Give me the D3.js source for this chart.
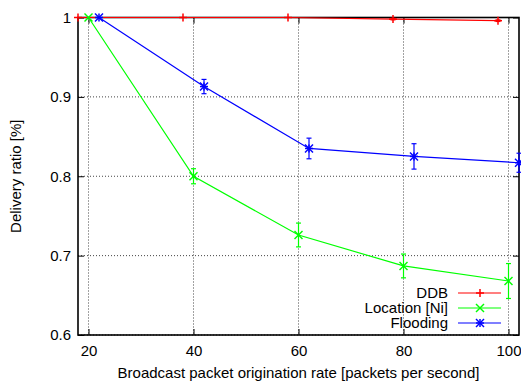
<!DOCTYPE html>
<html>
<head>
<meta charset="utf-8">
<script src="https://cdn.jsdelivr.net/npm/d3@7"></script>
<style>
  html, body { margin: 0; padding: 0; background: #fff; }
  svg { display: block; font-family: "Liberation Sans", Arial, sans-serif; }
</style>
</head>
<body>
<svg id="chart" width="521" height="383"></svg>
<script>
// Delivery ratio vs. broadcast origination rate, three protocols
const xTicks = [20, 40, 60, 80, 100];
const yTicks = [0.6, 0.7, 0.8, 0.9, 1];

const ddbX = [18, 38, 58, 78, 98];
const ddbY = [1.0, 1.0, 1.0, 0.998, 0.996];
const ddbErr = [0, 0, 0, 0.001, 0.001];

const locX = [20, 40, 60, 80, 100];
const locY = [1.0, 0.800, 0.726, 0.687, 0.668];
const locErr = [0, 0.0095, 0.015, 0.015, 0.022];

const floodX = [22, 42, 62, 82, 102];
const floodY = [1.0, 0.913, 0.835, 0.825, 0.817];
const floodErr = [0, 0.009, 0.013, 0.016, 0.012];

const seriesNames = ["DDB", "Location [Ni]", "Flooding"];
const seriesColors = ["#ff0000", "#00ff00", "#0000ff"];
const seriesMarkers = ["plus", "cross", "star"];

const series = [
  { name: seriesNames[0], color: seriesColors[0], marker: seriesMarkers[0], xs: ddbX, ys: ddbY, es: ddbErr },
  { name: seriesNames[1], color: seriesColors[1], marker: seriesMarkers[1], xs: locX, ys: locY, es: locErr },
  { name: seriesNames[2], color: seriesColors[2], marker: seriesMarkers[2], xs: floodX, ys: floodY, es: floodErr }
];

const svg = d3.select("#chart");
const pLeft = 78, pRight = 519, pTop = 17.5, pBottom = 335;
const fontSize = 15;
const fontFam = "Liberation Sans, Arial, sans-serif";

const x = d3.scaleLinear().domain([18, 102]).range([pLeft, pRight]);
const y = d3.scaleLinear().domain([0.6, 1]).range([pBottom, pTop]);

// dotted grid
const grid = svg.append("g");
grid.selectAll("line.gx").data(xTicks).join("line")
  .attr("x1", d => x(d)).attr("x2", d => x(d))
  .attr("y1", pTop).attr("y2", pBottom)
  .attr("stroke", "#444").attr("stroke-width", 1).attr("stroke-dasharray", "1,2");
grid.selectAll("line.gy").data(yTicks).join("line")
  .attr("x1", pLeft).attr("x2", pRight)
  .attr("y1", d => y(d)).attr("y2", d => y(d))
  .attr("stroke", "#444").attr("stroke-width", 1).attr("stroke-dasharray", "1,2");

// axes with inward ticks, mirrored on the opposite sides
const tickLen = 6;
svg.append("g").attr("transform", `translate(0,${pBottom})`)
  .call(d3.axisBottom(x).tickValues(xTicks).tickSize(-tickLen).tickPadding(10).tickFormat(d3.format("d")))
  .call(g => g.select(".domain").remove())
  .call(g => g.selectAll("text").attr("font-size", fontSize).attr("fill", "#000").attr("font-family", fontFam));
svg.append("g").attr("transform", `translate(0,${pTop})`)
  .call(d3.axisTop(x).tickValues(xTicks).tickSize(-tickLen).tickFormat(""))
  .call(g => g.select(".domain").remove());
svg.append("g").attr("transform", `translate(${pLeft},0)`)
  .call(d3.axisLeft(y).tickValues(yTicks).tickSize(-tickLen).tickPadding(7).tickFormat(d => d === 1 ? "1" : d3.format(".1f")(d)))
  .call(g => g.select(".domain").remove())
  .call(g => g.selectAll("text").attr("font-size", fontSize).attr("fill", "#000").attr("font-family", fontFam));
svg.append("g").attr("transform", `translate(${pRight},0)`)
  .call(d3.axisRight(y).tickValues(yTicks).tickSize(-tickLen).tickFormat(""))
  .call(g => g.select(".domain").remove());
svg.selectAll(".tick line").attr("stroke", "#000");

// frame
svg.append("rect")
  .attr("x", pLeft).attr("y", pTop).attr("width", pRight - pLeft).attr("height", pBottom - pTop)
  .attr("fill", "none").attr("stroke", "#000").attr("stroke-width", 1.6);

// axis titles
svg.append("text")
  .attr("x", (pLeft + pRight) / 2).attr("y", 377.5)
  .attr("text-anchor", "middle").attr("font-size", fontSize)
  .text("Broadcast packet origination rate [packets per second]");
svg.append("text")
  .attr("transform", `translate(21,${(pTop + pBottom) / 2}) rotate(-90)`)
  .attr("text-anchor", "middle").attr("font-size", fontSize)
  .text("Delivery ratio [%]");

function drawMarker(g, kind, cx, cy, color) {
  const r = 4;
  const segs = [];
  if (kind === "plus" || kind === "star") {
    segs.push([cx - r, cy, cx + r, cy], [cx, cy - r, cx, cy + r]);
  }
  if (kind === "cross" || kind === "star") {
    segs.push([cx - r, cy - r, cx + r, cy + r], [cx - r, cy + r, cx + r, cy - r]);
  }
  segs.forEach(s => g.append("line")
    .attr("x1", s[0]).attr("y1", s[1]).attr("x2", s[2]).attr("y2", s[3])
    .attr("stroke", color).attr("stroke-width", 1.5));
}

const plot = svg.append("g");
series.forEach(s => {
  const pts = s.xs.map((v, i) => ({ x: v, y: s.ys[i], e: s.es[i] }));
  plot.append("path")
    .attr("d", d3.line().x(d => x(d.x)).y(d => y(d.y))(pts))
    .attr("fill", "none").attr("stroke", s.color).attr("stroke-width", 1.2);
  const g = plot.append("g");
  pts.forEach(p => {
    if (p.e > 0) {
      const cx = x(p.x), y0 = y(p.y - p.e), y1 = y(p.y + p.e);
      g.append("line").attr("x1", cx).attr("x2", cx).attr("y1", y0).attr("y2", y1)
        .attr("stroke", s.color).attr("stroke-width", 1.2);
      [y0, y1].forEach(yy => g.append("line")
        .attr("x1", cx - 2.5).attr("x2", cx + 2.5).attr("y1", yy).attr("y2", yy)
        .attr("stroke", s.color).attr("stroke-width", 1.2));
    }
    drawMarker(g, s.marker, x(p.x), y(p.y), s.color);
  });
});

// legend
const legend = svg.append("g");
const legY = [293, 308, 323];
series.forEach((s, i) => {
  legend.append("text")
    .attr("x", 448).attr("y", legY[i]).attr("dy", "0.35em")
    .attr("text-anchor", "end").attr("font-size", fontSize)
    .text(s.name);
  legend.append("line")
    .attr("x1", 458).attr("x2", 501).attr("y1", legY[i]).attr("y2", legY[i])
    .attr("stroke", s.color).attr("stroke-width", 1.2);
  drawMarker(legend, s.marker, 480, legY[i], s.color);
});
</script>
</body>
</html>
